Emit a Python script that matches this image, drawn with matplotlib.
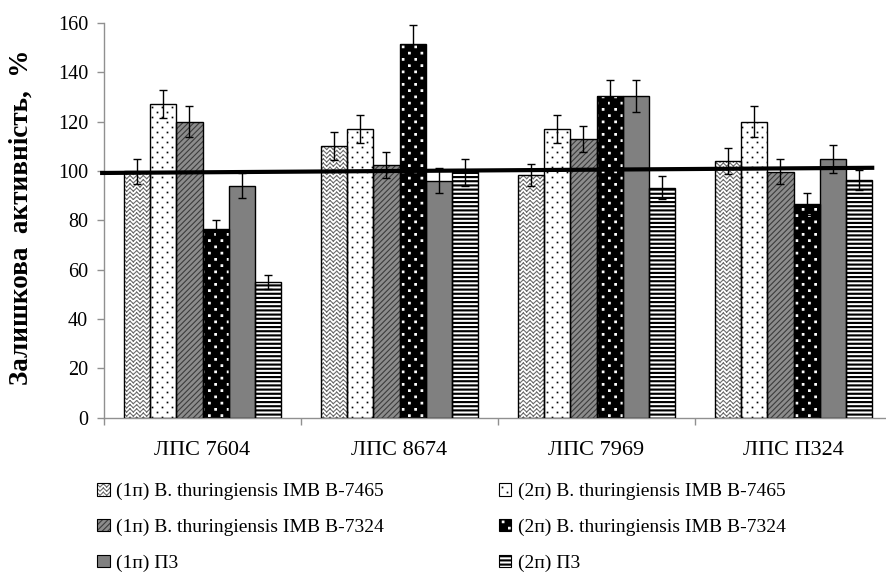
import warnings

import numpy as np
import matplotlib
matplotlib.use("Agg")
import matplotlib.pyplot as plt
import matplotlib.hatch as mhatch
from matplotlib.path import Path
from matplotlib.patches import Patch
from matplotlib.legend_handler import HandlerTuple

warnings.filterwarnings("ignore")

categories = ["ЛПС 7604", "ЛПС 8674", "ЛПС 7969", "ЛПС П324"]
series_names = [
    "(1п) B. thuringiensis IMB B-7465",
    "(2п) B. thuringiensis IMB B-7465",
    "(1п) B. thuringiensis IMB B-7324",
    "(2п) B. thuringiensis IMB B-7324",
    "(1п) П3",
    "(2п) П3",
]
s1 = [99.8, 110.0, 98.5, 104.2]
s2 = [127.0, 117.0, 117.0, 120.0]
s3 = [120.0, 102.4, 113.0, 99.7]
s4 = [76.4, 151.5, 130.3, 86.5]
s5 = [94.0, 96.0, 130.3, 105.0]
s6 = [55.0, 99.5, 93.2, 96.2]
s1_err = [5.0, 5.7, 4.5, 5.3]
s2_err = [5.7, 5.6, 5.7, 6.3]
s3_err = [6.3, 5.2, 5.1, 5.1]
s4_err = [3.7, 7.7, 6.4, 4.5]
s5_err = [5.0, 5.1, 6.4, 5.7]
s6_err = [2.9, 5.4, 4.7, 4.1]
trend_x = [-0.52, 3.41]
trend_y = [99.2, 101.3]


# extra hatch patterns imitating the Excel fills
class WaveHatch(mhatch.HatchPatternBase):
    def __init__(self, hatch, density):
        self.num_lines = hatch.count("~") * 24
        self.num_seg = 30
        self.num_vertices = self.num_lines * self.num_seg * 2

    def set_vertices_and_codes(self, vertices, codes):
        xs = np.linspace(0.0, 1.0, self.num_seg + 1)
        amp = np.where(np.arange(self.num_seg + 1) % 2 == 0, -0.016, 0.016)
        i = 0
        for j in range(self.num_lines):
            y0 = (j + 0.5) / self.num_lines
            for k in range(self.num_seg):
                vertices[i] = (xs[k], y0 + amp[k])
                vertices[i + 1] = (xs[k + 1], y0 + amp[k + 1])
                codes[i] = Path.MOVETO
                codes[i + 1] = Path.LINETO
                i += 2


class SquareDots(mhatch.HatchPatternBase):
    char = "#"
    rows = 16
    cols = 8
    half = 0.008

    def __init__(self, hatch, density):
        n = hatch.count(self.char)
        self.num_shapes = self.rows * self.cols if n else 0
        self.num_vertices = self.num_shapes * 5

    def set_vertices_and_codes(self, vertices, codes):
        h = self.half
        sq = np.array([[-h, -h], [h, -h], [h, h], [-h, h], [-h, -h]])
        i = 0
        for r in range(self.rows):
            y = (r + 0.5) / self.rows
            shift = 0.25 if r % 2 == 0 else 0.75
            for c in range(self.cols):
                x = (c + shift) / self.cols
                vertices[i:i + 5] = sq + (x, y)
                codes[i:i + 5] = [Path.MOVETO, Path.LINETO, Path.LINETO,
                                  Path.LINETO, Path.CLOSEPOLY]
                i += 5


class SmallDots(SquareDots):
    char = ":"
    rows = 20
    cols = 10
    half = 0.003


class Stripes(mhatch.HatchPatternBase):
    def __init__(self, hatch, density):
        self.num_lines = 24 if "=" in hatch else 0
        self.num_vertices = self.num_lines * 5

    def set_vertices_and_codes(self, vertices, codes):
        h = 0.005
        for j in range(self.num_lines):
            y = (j + 0.5) / self.num_lines
            vertices[j * 5:j * 5 + 5] = [[0, y - h], [1, y - h], [1, y + h],
                                         [0, y + h], [0, y - h]]
            codes[j * 5:j * 5 + 5] = [Path.MOVETO, Path.LINETO, Path.LINETO,
                                      Path.LINETO, Path.CLOSEPOLY]


mhatch._hatch_types.extend([WaveHatch, SquareDots, SmallDots, Stripes])

plt.rcParams["font.family"] = ["Liberation Serif", "DejaVu Serif"]
plt.rcParams["hatch.linewidth"] = 0.8

values = [s1, s2, s3, s4, s5, s6]
errors = [s1_err, s2_err, s3_err, s4_err, s5_err, s6_err]
faces = ["white", "white", "#8c8c8c", "black", "#808080", "white"]
hatches = ["~", ":", "//////", "#", None, "="]
hatch_colors = ["#6e6e6e", "black", "#3c3c3c", "white", "#808080", "black"]

fig = plt.figure(figsize=(8.86, 5.79), dpi=100)
ax = fig.add_axes([0.1174, 0.2786, 0.8894, 0.6817])

x = np.arange(len(categories))
width = 0.8 / 6
handles = []
for i in range(6):
    pos = x + (i - 2.5) * width
    ax.bar(pos, values[i], width, color=faces[i], hatch=hatches[i],
           edgecolor=hatch_colors[i], linewidth=0, zorder=2)
    ax.bar(pos, values[i], width, fill=False, edgecolor="black",
           linewidth=1.0, zorder=3)
    ax.errorbar(pos, values[i], yerr=errors[i], fmt="none", ecolor="black",
                elinewidth=1.0, capsize=3.2, capthick=1.0, zorder=5)
    handles.append((Patch(facecolor=faces[i], hatch=hatches[i],
                          edgecolor=hatch_colors[i], linewidth=0),
                    Patch(fill=False, edgecolor="black", linewidth=0.8)))

ax.plot(trend_x, trend_y, color="black", linewidth=3.0, zorder=6,
        solid_capstyle="butt", clip_on=False)

ax.set_xlim(-0.5, 3.5)
ax.set_ylim(0, 160)
ax.set_yticks(np.arange(0, 161, 20))
ax.set_xticks(x)
ax.set_xticklabels(categories, fontsize=16)
ax.set_xticks(np.arange(-0.5, 3.6, 1), minor=True)
ax.tick_params(axis="x", which="major", length=0, pad=17)
ax.tick_params(axis="x", which="minor", length=5, color="#909090", width=1)
ax.tick_params(axis="y", labelsize=14.5, length=5, color="#909090",
               width=1, pad=6.5)
for side in ["top", "right"]:
    ax.spines[side].set_visible(False)
for side in ["left", "bottom"]:
    ax.spines[side].set_color("#909090")
    ax.spines[side].set_linewidth(1.0)

fig.text(0.024, 0.625, "Залишкова  активність,  %", rotation=90,
         ha="center", va="center", fontsize=19.5, fontweight="bold")

order = [0, 2, 4, 1, 3, 5]
fig.legend([handles[k] for k in order], [series_names[k] for k in order],
           handler_map={tuple: HandlerTuple(ndivide=1, pad=0)},
           ncol=2, loc="upper left", bbox_to_anchor=(0.110, 0.166),
           frameon=False, fontsize=14, handlelength=0.62, handleheight=0.62,
           handletextpad=0.35, columnspacing=5.9, labelspacing=0.95,
           borderaxespad=0, borderpad=0)

fig.savefig("out.png", dpi=100)
